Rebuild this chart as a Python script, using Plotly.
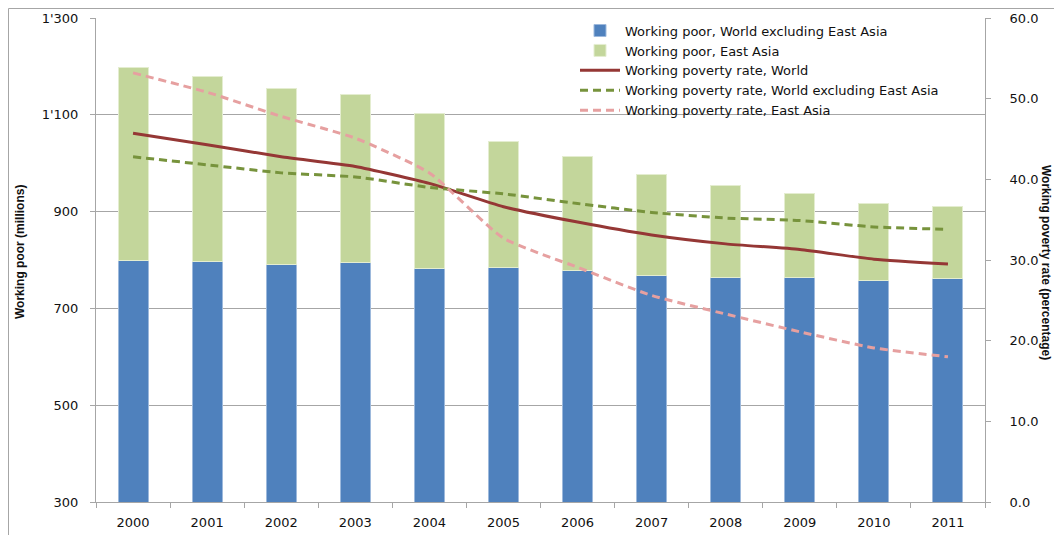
import plotly.graph_objects as go

years = ["2000", "2001", "2002", "2003", "2004", "2005", "2006", "2007", "2008", "2009", "2010", "2011"]
poor_world_ex_ea = [800, 797, 790, 794, 783, 785, 779, 769, 764, 764, 757, 761]
poor_east_asia = [397, 383, 365, 347, 320, 259, 234, 207, 190, 174, 159, 149]
rate_world = [45.7, 44.3, 42.8, 41.6, 39.5, 36.6, 34.7, 33.1, 32.0, 31.3, 30.1, 29.5]
rate_world_ex_ea = [42.8, 41.8, 40.8, 40.3, 39.0, 38.2, 37.0, 35.9, 35.2, 34.9, 34.1, 33.8]
rate_east_asia = [53.2, 50.8, 47.8, 45.1, 40.8, 32.7, 29.1, 25.6, 23.3, 21.1, 19.1, 18.0]

left_ticks = [300, 500, 700, 900, 1100, 1300]
left_ticktext = ["300", "500", "700", "900", "1'100", "1'300"]
right_ticks = [0, 10, 20, 30, 40, 50, 60]

FONT = "DejaVu Sans"
TFONT = "Liberation Sans Narrow, Liberation Sans"
# page body has an 8px margin; plot area target in page px: x 96..985, y 18..502
OFF = 8
PL, PR, PT, PB = 96, 985, 18, 502
W, H = 1062 - OFF, 535 - OFF


def px(x):
    return (x - PL) / (PR - PL)


def py(y):
    return (PB - y) / (PB - PT)


fig = go.Figure()
fig.add_trace(go.Bar(x=years, y=poor_world_ex_ea, name="Working poor, World excluding East Asia",
                     marker=dict(color="#4F81BD", line=dict(color="#9DB9DC", width=1))))
fig.add_trace(go.Bar(x=years, y=poor_east_asia, name="Working poor, East Asia",
                     marker=dict(color="#C3D69B", line=dict(color="#E4EDD0", width=1))))
fig.add_trace(go.Scatter(x=years, y=rate_world, name="Working poverty rate, World", yaxis="y2",
                         mode="lines", line=dict(color="#953735", width=3, shape="spline", smoothing=0.5)))
fig.add_trace(go.Scatter(x=years, y=rate_world_ex_ea, name="Working poverty rate, World excluding East Asia", yaxis="y2",
                         mode="lines", line=dict(color="#77933C", width=3, dash="8px,5px", shape="spline", smoothing=0.5)))
fig.add_trace(go.Scatter(x=years, y=rate_east_asia, name="Working poverty rate, East Asia", yaxis="y2",
                         mode="lines", line=dict(color="#E6A0A0", width=3, dash="8px,5px", shape="spline", smoothing=0.5)))

fig.update_layout(
    width=W, height=H,
    margin=dict(l=PL - OFF, r=1062 - PR, t=PT - OFF, b=535 - PB, autoexpand=False),
    paper_bgcolor="white", plot_bgcolor="white",
    barmode="stack", bargap=0.595,
    font=dict(family=FONT, size=13, color="#222222"),
    showlegend=True,
    legend=dict(x=px(575), y=1.005, xanchor="left", yanchor="top", traceorder="normal",
                bgcolor="rgba(0,0,0,0)", font=dict(size=13, family=FONT, color="#111111"),
                tracegroupgap=0, itemwidth=40),
    xaxis=dict(type="category", showgrid=False, showline=True, linecolor="#A6A6A6", linewidth=1,
               ticks="outside", ticklen=5, tickcolor="#A6A6A6", tickson="boundaries",
               ticklabelstandoff=8,
               tickfont=dict(size=13, family=FONT, color="#111111")),
    yaxis=dict(range=[300, 1300], tickvals=left_ticks, ticktext=left_ticktext,
               showgrid=True, gridcolor="#A6A6A6", gridwidth=1, showline=True, linecolor="#A6A6A6",
               ticks="outside", ticklen=5, tickcolor="#A6A6A6", zeroline=False,
               ticklabelstandoff=9,
               tickfont=dict(size=13, family=FONT, color="#111111")),
    yaxis2=dict(range=[0, 60], tickvals=right_ticks, tickformat=".1f", overlaying="y", side="right",
                showgrid=False, showline=True, linecolor="#A6A6A6", ticks="outside", ticklen=5,
                tickcolor="#A6A6A6", zeroline=False, ticklabelstandoff=16,
                tickfont=dict(size=13, family=FONT, color="#111111")),
    annotations=[
        dict(text="<b>Working poor (millions)</b>", xref="paper", yref="paper",
             x=px(20), y=py(252), xanchor="center", yanchor="middle", textangle=-90, showarrow=False,
             font=dict(size=12, family=TFONT, color="#111111")),
        dict(text="<b>Working poverty rate (percentage)</b>", xref="paper", yref="paper",
             x=px(1055), y=py(262), xanchor="right", yanchor="middle", textangle=90, showarrow=False,
             font=dict(size=12, family=TFONT, color="#111111")),
    ],
    shapes=[
        dict(type="line", xref="paper", yref="paper", x0=px(8.5), x1=px(8.5),
             y0=py(8.5), y1=py(540), line=dict(color="#A6A6A6", width=1)),
        dict(type="line", xref="paper", yref="paper", x0=px(8.5), x1=px(1070),
             y0=py(8.5), y1=py(8.5), line=dict(color="#A6A6A6", width=1)),
    ],
)

fig.write_html("out.html")
